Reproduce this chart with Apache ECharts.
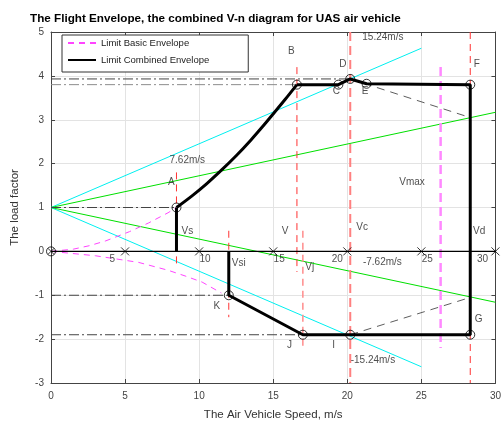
<!DOCTYPE html>
<html>
<head>
<meta charset="utf-8">
<script src="https://cdn.jsdelivr.net/npm/echarts@6/dist/echarts.min.js"></script>
<style>
html, body { margin: 0; padding: 0; background: #fff; }
#chart { width: 504px; height: 426px; }
</style>
</head>
<body>
<div id="chart"></div>
<script>
// combined envelope: stall line, curve A-B, then B..K back to the axis
var stallX = [8.47, 8.47];
var stallY = [0, 1.0];
var curveX = [8.47, 9.5, 10.5, 11.38, 12.5, 13.5, 14.3, 15.04, 15.8, 16.6];
var curveY = [1.0, 1.26, 1.54, 1.81, 2.18, 2.54, 2.85, 3.15, 3.46, 3.8];
var envX = [16.6, 19.4, 20.2, 21.3, 28.3, 28.3, 20.2, 17.0, 12.0, 12.0];
var envY = [3.8, 3.8, 3.93, 3.82, 3.8, -1.9, -1.9, -1.9, -1.0, 0];

// corner points (open circles)
var ptX = [8.47, 16.6, 19.4, 20.2, 21.3, 28.3, 28.3, 20.2, 17.0, 12.0];
var ptY = [1.0, 3.8, 3.8, 3.93, 3.82, 3.8, -1.9, -1.9, -1.9, -1.0];

// basic envelope (pink dashed)
var basicPosX = [0, 1.5, 2.6, 3.7, 5.3, 6.6, 7.9, 8.47];
var basicPosY = [0, 0.05, 0.13, 0.24, 0.45, 0.65, 0.88, 1.0];
var basicNegX = [0, 3.0, 5.9, 7.9, 9.05, 10.2, 11.5];
var basicNegY = [0, -0.1, -0.25, -0.43, -0.56, -0.7, -0.95];
var basicVd = 26.3, basicVdTop = 4.2, basicVdBot = -2.2;

// gust lines from (0,1)
var gust15End = [25, 4.63, 25, -2.63];
var gust7End = [30, 3.17, 30, -1.16];

// red speed markers
var redX = [8.47, 12.0, 16.6, 28.3];
var redTop = [1.8, 0.47, 4.2, 5];
var redBot = [-0.29, -1.5, -0.47, -3];
var paleX = [17.0, 20.2];
var paleTop = [0.47, 5];
var paleBot = [-2.2, -3];

// dash-dot load factor levels
var levelY = [3.93, 3.8, 1, -1, -1.9];
var levelEnd = [20.2, 16.6, 8.47, 12.0, 17.0];

// thin dashed gust cut lines
var cutTop = [20.2, 3.93, 28.3, 3.05];
var cutBot = [20.2, -1.9, 28.3, -1.05];

// speed axis marks on n = 0
var markX = [5, 10, 15, 20, 25, 30];

// text labels
var labelText = ['A', 'B', 'C', 'D', 'E', 'F', 'G', 'I', 'J', 'K',
	'Vs', 'Vsi', 'V', 'Vj', 'Vc', 'Vd', 'Vmax',
	'7.62m/s', '15.24m/s', '-7.62m/s', '-15.24m/s',
	'5', '10', '15', '20', '25', '30'];
var labelX = [8.13, 16.22, 19.27, 19.7, 21.2, 28.75, 28.87, 19.07, 16.1, 11.2,
	9.2, 12.67, 15.8, 17.47, 21.0, 28.9, 24.37,
	9.2, 22.4, 22.37, 21.73,
	4.13, 10.4, 15.4, 19.33, 25.4, 29.13];
var labelY = [1.57, 4.56, 3.66, 4.27, 3.64, 4.27, -1.55, -2.14, -2.14, -1.25,
	0.47, -0.27, 0.47, -0.36, 0.56, 0.47, 1.57,
	2.07, 4.89, -0.25, -2.48,
	-0.18, -0.18, -0.18, -0.18, -0.18, -0.18];

var FONT = 'Liberation Sans, Arial, sans-serif';

function pairs(xs, ys) {
	var out = [];
	for (var i = 0; i < xs.length; i++) out.push([xs[i], ys[i]]);
	return out;
}

function line(name, data, color, width, type, z) {
	return {
		type: 'line', name: name, data: data, symbol: 'none',
		silent: true, z: z,
		itemStyle: { color: color },
		lineStyle: { color: color, width: width, type: type }
	};
}

var chart = echarts.init(document.getElementById('chart'));
var series = [];

// gust lines
series.push(line('g15a', [[0, 1], [gust15End[0], gust15End[1]]], '#00f0f0', 1, 'solid', 2));
series.push(line('g15b', [[0, 1], [gust15End[2], gust15End[3]]], '#00f0f0', 1, 'solid', 2));
series.push(line('g7a', [[0, 1], [gust7End[0], gust7End[1]]], '#00e000', 1, 'solid', 2));
series.push(line('g7b', [[0, 1], [gust7End[2], gust7End[3]]], '#00e000', 1, 'solid', 2));

// basic envelope
series.push(line('Limit Basic Envelope', pairs(basicPosX, basicPosY), '#ff44ff', 1, [6, 5], 3));
series.push(line('Limit Basic Envelope', pairs(basicNegX, basicNegY), '#ff44ff', 1, [6, 5], 3));
series.push(line('basicVd', [[basicVd, basicVdTop], [basicVd, basicVdBot]], '#ff88ff', 2.5, [9, 5], 3));

// red verticals
for (var i = 0; i < redX.length; i++) {
	series.push(line('red' + i, [[redX[i], redTop[i]], [redX[i], redBot[i]]], '#ff3333', 1, [7, 5], 3));
}
series.push(line('pale0', [[paleX[0], paleTop[0]], [paleX[0], paleBot[0]]], '#ff8c8c', 1.5, [7, 5], 3));
series.push(line('pale1', [[paleX[1], paleTop[1]], [paleX[1], paleBot[1]]], '#ff8080', 2, [9, 5], 3));

// dash-dot levels
for (var j = 0; j < levelY.length; j++) {
	var c = j === 1 ? '#8c8c8c' : '#444';
	series.push(line('lvl' + j, [[0, levelY[j]], [levelEnd[j], levelY[j]]], c, 1, [10, 3, 2, 3], 4));
}

// cut lines
series.push(line('cut1', [[cutTop[0], cutTop[1]], [cutTop[2], cutTop[3]]], '#333', 0.8, [8, 6], 4));
series.push(line('cut2', [[cutBot[0], cutBot[1]], [cutBot[2], cutBot[3]]], '#333', 0.8, [8, 6], 4));

// n = 0 axis with marks
series.push(line('axis0', [[0, 0], [30, 0]], '#000', 1.3, 'solid', 5));
series.push({
	type: 'scatter', silent: true, z: 6,
	symbol: 'path://M0,0L10,10M10,0L0,10', symbolSize: 8,
	itemStyle: { color: 'rgba(0,0,0,0)', borderColor: '#000', borderWidth: 1 },
	data: markX.map(function (v) { return [v, 0]; })
});
series.push({
	type: 'scatter', silent: true, z: 6,
	symbol: 'path://M10,5A5,5,0,1,1,0,5A5,5,0,1,1,10,5ZM1.6,1.6L8.4,8.4M8.4,1.6L1.6,8.4', symbolSize: 9,
	itemStyle: { color: 'rgba(0,0,0,0)', borderColor: '#000', borderWidth: 1 },
	data: [[0, 0]]
});

// combined envelope
series.push(line('Limit Combined Envelope', pairs(envX, envY), '#000', 3, 'solid', 7));
series.push(line('Limit Combined Envelope', pairs(stallX, stallY), '#000', 3, 'solid', 7));
var curve = line('Limit Combined Envelope', pairs(curveX, curveY), '#000', 3, 'solid', 7);
curve.smooth = 0.3;
curve.lineStyle.join = 'round';
series.push(curve);

series.push({
	type: 'scatter', silent: true, z: 8,
	symbol: 'circle', symbolSize: 9,
	itemStyle: { color: 'rgba(0,0,0,0)', borderColor: '#000', borderWidth: 1 },
	data: pairs(ptX, ptY)
});

// text
series.push({
	type: 'scatter', silent: true, z: 9, symbolSize: 0,
	data: labelText.map(function (t, k) { return { name: t, value: [labelX[k], labelY[k]] }; }),
	label: {
		show: true, position: 'inside', formatter: '{b}',
		color: '#222', fontSize: 10, fontFamily: FONT
	}
});

var axisColor = '#444';
var option = {
	animation: false,
	backgroundColor: '#fff',
	title: {
		text: 'The Flight Envelope, the combined V-n diagram for UAS air vehicle',
		left: 25, top: 8,
		textStyle: { fontSize: 11.7, fontWeight: 'bold', color: '#000', fontFamily: FONT }
	},
	legend: {
		data: ['Limit Basic Envelope', 'Limit Combined Envelope'],
		orient: 'vertical', left: 62, top: 35,
		padding: [3, 39, 7, 5], itemGap: 7,
		itemWidth: 28, itemHeight: 12,
		backgroundColor: '#fff', borderColor: '#333', borderWidth: 1, borderRadius: 0,
		itemStyle: { color: 'rgba(0,0,0,0)', borderWidth: 0, opacity: 0 },
		textStyle: { fontSize: 9.5, color: '#222', fontFamily: FONT },
		selectedMode: false
	},
	grid: { left: 51, right: 3, top: 32, bottom: 39 },
	xAxis: [{
		type: 'value', min: 0, max: 30, interval: 5, position: 'bottom',
		name: 'The Air Vehicle Speed, m/s', nameLocation: 'middle', nameGap: 26,
		nameTextStyle: { fontSize: 11.5, color: '#333', fontFamily: FONT },
		axisLine: { show: true, onZero: false, lineStyle: { color: axisColor } },
		axisTick: { inside: true, length: 4, lineStyle: { color: axisColor } },
		axisLabel: { fontSize: 10, color: '#444', margin: 8, fontFamily: FONT },
		splitLine: { show: true, lineStyle: { color: '#e3e3e3' } }
	}, {
		type: 'value', min: 0, max: 30, interval: 5, position: 'top',
		axisLine: { show: true, onZero: false, lineStyle: { color: axisColor } },
		axisTick: { inside: true, length: 4, lineStyle: { color: axisColor } },
		axisLabel: { show: false },
		splitLine: { show: false }
	}],
	yAxis: [{
		type: 'value', min: -3, max: 5, interval: 1, position: 'left',
		name: 'The load factor', nameLocation: 'middle', nameGap: 30,
		nameTextStyle: { fontSize: 11.5, color: '#333', fontFamily: FONT },
		axisLine: { show: true, onZero: false, lineStyle: { color: axisColor } },
		axisTick: { inside: true, length: 4, lineStyle: { color: axisColor } },
		axisLabel: { fontSize: 10, color: '#444', margin: 7, fontFamily: FONT },
		splitLine: { show: true, lineStyle: { color: '#e3e3e3' } }
	}, {
		type: 'value', min: -3, max: 5, interval: 1, position: 'right',
		axisLine: { show: true, onZero: false, lineStyle: { color: axisColor } },
		axisTick: { inside: true, length: 4, lineStyle: { color: axisColor } },
		axisLabel: { show: false },
		splitLine: { show: false }
	}],
	series: series
};

chart.setOption(option);
</script>
</body>
</html>
